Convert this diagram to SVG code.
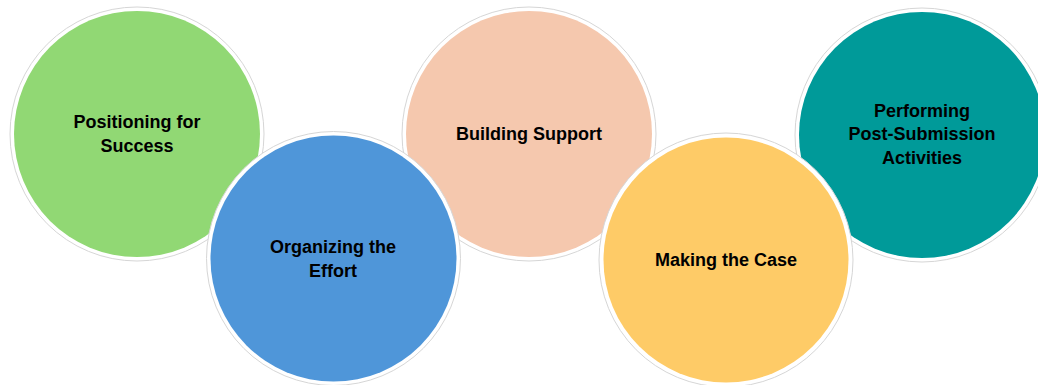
<svg xmlns="http://www.w3.org/2000/svg" width="1038" height="385" viewBox="0 0 1038 385">
<style>
.ring{fill:#ffffff;stroke:#d6d6d6;stroke-width:1}
.lbl{font-family:"Liberation Sans",Arial,sans-serif;font-weight:bold;font-size:18px;fill:#000000;text-anchor:middle}
</style>
<rect width="1038" height="385" fill="#ffffff"/>
<g id="connectors"></g>
<g id="node-positioning">
<circle class="ring" cx="137" cy="134" r="127"/>
<circle cx="137" cy="134" r="123" fill="#91D874"/>
<text class="lbl" x="137" y="128">Positioning for</text>
<text class="lbl" x="137" y="152">Success</text>
</g>
<g id="node-building">
<circle class="ring" cx="529" cy="134" r="127"/>
<circle cx="529" cy="134" r="123" fill="#F5C8AE"/>
<text class="lbl" x="529" y="140">Building Support</text>
</g>
<g id="node-performing">
<circle class="ring" cx="922" cy="135" r="127"/>
<circle cx="922" cy="135" r="123" fill="#009A99"/>
<text class="lbl" x="922" y="117">Performing</text>
<text class="lbl" x="922" y="140">Post-Submission</text>
<text class="lbl" x="922" y="164">Activities</text>
</g>
<g id="node-organizing">
<circle class="ring" cx="333.5" cy="258.5" r="127"/>
<circle cx="333.5" cy="258.5" r="123" fill="#4F96D9"/>
<text class="lbl" x="333" y="253">Organizing the</text>
<text class="lbl" x="333" y="277">Effort</text>
</g>
<g id="node-making">
<circle class="ring" cx="726" cy="260" r="127"/>
<circle cx="726" cy="260" r="122.5" fill="#FECB67"/>
<text class="lbl" x="726" y="266">Making the Case</text>
</g>
</svg>
